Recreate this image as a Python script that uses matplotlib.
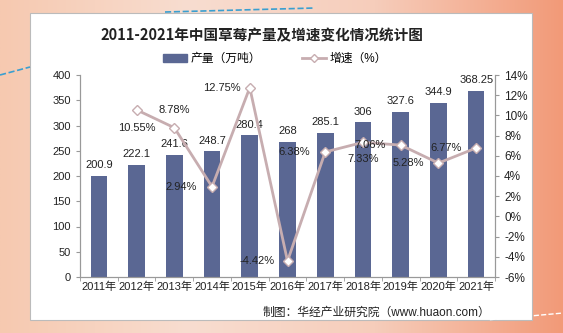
import numpy as np
import matplotlib.pyplot as plt
from matplotlib.patches import Rectangle
from matplotlib.lines import Line2D
from matplotlib.colors import LinearSegmentedColormap

plt.rcParams['font.family'] = ['Liberation Sans', 'Noto Sans CJK SC', 'DejaVu Sans']

years = ["2011年", "2012年", "2013年", "2014年", "2015年", "2016年",
         "2017年", "2018年", "2019年", "2020年", "2021年"]
output = [200.9, 222.1, 241.6, 248.7, 280.4, 268, 285.1, 306, 327.6, 344.9, 368.25]
output_labels = ["200.9", "222.1", "241.6", "248.7", "280.4", "268",
                 "285.1", "306", "327.6", "344.9", "368.25"]
# growth starts in 2012
growth = [np.nan, 10.55, 8.78, 2.94, 12.75, -4.42, 6.38, 7.33, 7.06, 5.28, 6.77]

# label offsets (points) for the growth labels
growth_off = [None, (0, -13), (0, 13), (-22, 0), (-20, 0), (-22, 0),
              (-22, 0), (0, -12), (-22, 0), (-22, 0), (-22, 0)]

bar_color = '#5a6793'
line_color = '#c7adb0'

fig = plt.figure(figsize=(5.63, 3.33), dpi=100)

# decorative background
bg = fig.add_axes([0, 0, 1, 1])
grad = np.linspace(0, 1, 256)[None, :]
cmap = LinearSegmentedColormap.from_list('bg', ['#f6c9b0', '#f8ddd0', '#f6cdbb', '#f29a78'])
bg.imshow(grad, aspect='auto', cmap=cmap, extent=[0, 1, 0, 1])
bg.add_patch(Rectangle((30 / 563, 1 - 320 / 333), 502 / 563, 307 / 333,
                       facecolor='white', edgecolor='#bbbbbb', lw=0.8))
bg.plot([0.0, 30 / 563], [1 - 75 / 333, 1 - 67 / 333], ls='--', color='#3a9fd0', lw=1.2)
bg.plot([165 / 563, 315 / 563], [1 - 12 / 333, 1 - 8 / 333], ls='--', color='#3a9fd0', lw=1.2)
bg.plot([0.87, 1.0], [0.04, 0.06], ls='--', color='white', lw=1.0)
bg.set_xlim(0, 1)
bg.set_ylim(0, 1)
bg.axis('off')

ax = fig.add_axes([80 / 563, 1 - 277 / 333, 415 / 563, 202 / 333])
ax.set_facecolor('none')
x = np.arange(len(years))
ax.bar(x, output, width=0.44, color=bar_color, zorder=2)
for xi, v, lab in zip(x, output, output_labels):
    ax.annotate(lab, (xi, v), xytext=(0, 4), textcoords='offset points',
                ha='center', va='bottom', fontsize=8, color='#222222')

ax.set_ylim(0, 400)
ax.set_yticks(range(0, 401, 50))
ax.set_xlim(-0.5, len(years) - 0.5)
ax.set_xticks(x)
ax.set_xticklabels(years, fontsize=8, color='#222222')
ax.set_xticks(np.arange(-0.5, len(years), 1), minor=True)
ax.tick_params(axis='x', which='major', length=0, pad=3)
ax.tick_params(axis='x', which='minor', length=3, color='#999999')
ax.tick_params(axis='y', labelsize=8, length=3, color='#999999', labelcolor='#222222')
for s in ['left', 'bottom', 'right']:
    ax.spines[s].set_color('#999999')
ax.spines['top'].set_visible(False)

ax2 = ax.twinx()
ax2.plot(x, growth, color=line_color, lw=2, marker='D', markersize=5,
         markerfacecolor='white', markeredgecolor=line_color, zorder=3)
for xi, v, off in zip(x, growth, growth_off):
    if off is None:
        continue
    ax2.annotate(f"{v:.2f}%", (xi, v), xytext=off, textcoords='offset points',
                 ha='center', va='center', fontsize=8, color='#222222')
ax2.set_ylim(-6, 14)
ax2.set_yticks(range(-6, 15, 2))
ax2.set_yticklabels([f"{t}%" for t in range(-6, 15, 2)])
ax2.tick_params(axis='y', labelsize=8.5, length=3, color='#999999', labelcolor='#222222')
for s in ['left', 'bottom', 'right']:
    ax2.spines[s].set_color('#999999')
ax2.spines['top'].set_visible(False)

fig.text(262 / 563, 1 - 35 / 333, "2011-2021年中国草莓产量及增速变化情况统计图",
         ha='center', va='center', fontsize=10.5, fontweight='bold',
         family=['Noto Sans CJK SC'], color='#222222')

handles = [Rectangle((0, 0), 1, 1, color=bar_color),
           Line2D([], [], color=line_color, lw=2, marker='D', markersize=4,
                  markerfacecolor='white', markeredgecolor=line_color)]
fig.legend(handles, ["产量（万吨）", "增速（%）"], loc='center',
           bbox_to_anchor=(275 / 563, 1 - 59 / 333), ncol=2, frameon=False,
           fontsize=8.5, handlelength=2.0, columnspacing=3.5, handletextpad=0.3)

fig.text(490 / 563, 1 - 313 / 333, "制图：华经产业研究院（www.huaon.com）",
         ha='right', va='center', fontsize=8.5, color='#222222')

fig.savefig('out.png', dpi=100)
